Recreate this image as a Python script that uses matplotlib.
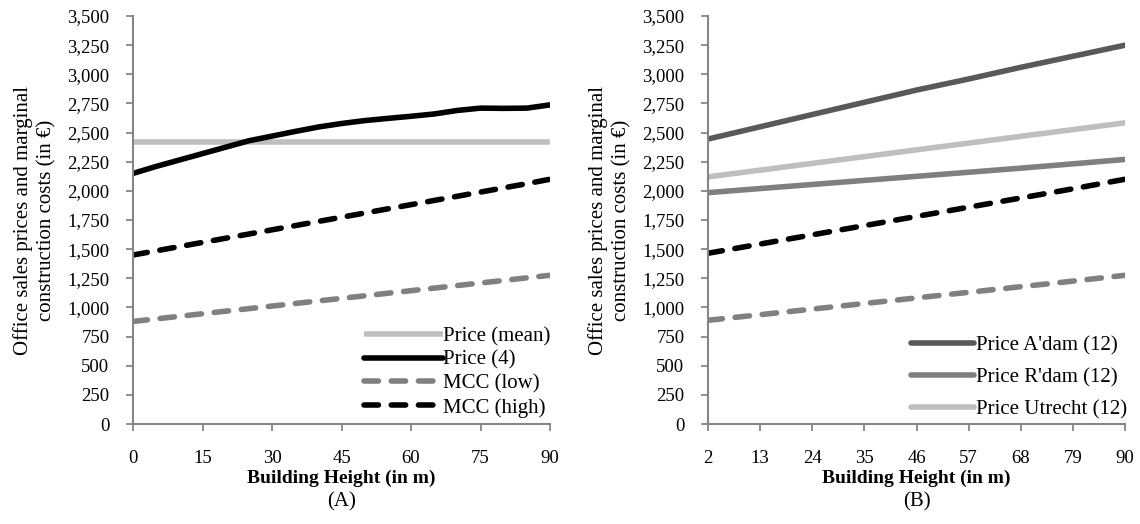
import matplotlib.pyplot as plt
import numpy as np

plt.rcParams['font.family'] = ['Liberation Serif', 'DejaVu Serif']

# panel A
height_a = [0, 5, 10, 15, 20, 25, 30, 35, 40, 45, 50, 55, 60, 65, 70, 75, 80, 85, 90]
price_mean = [2420] * len(height_a)
price_4 = [2150, 2210, 2265, 2320, 2375, 2430, 2470, 2510, 2548, 2578, 2603, 2622, 2640, 2660, 2690, 2710, 2708, 2710, 2738]
mcc_low_a = [880, 902, 924, 946, 968, 990, 1012, 1034, 1056, 1078, 1100, 1122, 1144, 1166, 1188, 1210, 1232, 1254, 1276]
mcc_high_a = [1450, 1486, 1522, 1558, 1594, 1630, 1666, 1702, 1738, 1774, 1810, 1846, 1882, 1918, 1954, 1990, 2026, 2062, 2100]

# panel B
height_b = [2, 13, 24, 35, 46, 57, 68, 79, 90]
price_adam = [2445, 2550, 2655, 2760, 2865, 2960, 3060, 3155, 3250]
price_rdam = [1985, 2020, 2055, 2090, 2125, 2160, 2195, 2232, 2270]
price_utrecht = [2120, 2178, 2236, 2294, 2352, 2410, 2468, 2526, 2584]
mcc_low_b = [890, 938, 986, 1034, 1082, 1130, 1178, 1226, 1276]
mcc_high_b = [1465, 1544, 1623, 1702, 1781, 1860, 1939, 2018, 2100]

AX_GRAY = '#868686'
LW = 4.0
DASH = (2.6, 2.3)


def style_axes(ax, xticks, xlim, label):
    ax.set_xlim(xlim)
    ax.set_ylim(0, 3500)
    ax.set_xticks(xticks)
    ax.set_yticks(np.arange(0, 3501, 250))
    ax.set_yticklabels(["{:,}".format(v) for v in range(0, 3501, 250)])
    for s in ['top', 'right']:
        ax.spines[s].set_visible(False)
    for s in ['left', 'bottom']:
        ax.spines[s].set_color(AX_GRAY)
        ax.spines[s].set_linewidth(1.5)
    ax.tick_params(axis='both', direction='out', length=5, width=1.3,
                   color=AX_GRAY, labelsize=13.5)
    ax.tick_params(axis='x', pad=14)
    ax.tick_params(axis='y', pad=12)
    ax.set_ylabel("Office sales prices and marginal\nconstruction costs (in \u20ac)",
                  fontsize=15, labelpad=8, linespacing=1.25)
    ax.set_xlabel("Building Height (in m)", fontsize=14, fontweight='bold', labelpad=2)
    ax.text(0.5, -0.19, label, transform=ax.transAxes, ha='center', va='center',
            fontsize=15)


def dashed(ax, x, y, color, lab):
    line, = ax.plot(x, y, color=color, lw=LW, label=lab, dash_capstyle='round')
    line.set_dashes(DASH)
    return line


fig = plt.figure(figsize=(11.4, 5.24), dpi=100)
ax1 = fig.add_axes([0.1167, 0.1908, 0.3658, 0.7786])
ax2 = fig.add_axes([0.6211, 0.1908, 0.3658, 0.7786])

ax1.plot(height_a, price_mean, color='#bfbfbf', lw=LW, label='Price (mean)', solid_capstyle='butt')
ax1.plot(height_a, price_4, color='black', lw=LW, label='Price (4)', solid_capstyle='round')
dashed(ax1, height_a, mcc_low_a, '#808080', 'MCC (low)')
dashed(ax1, height_a, mcc_high_a, 'black', 'MCC (high)')
style_axes(ax1, range(0, 91, 15), (0, 90), '(A)')
ax1.legend(loc='lower right', bbox_to_anchor=(1.035, -0.02), frameon=False, fontsize=15,
           handlelength=3.8, handletextpad=0.0, labelspacing=0.2, borderpad=0.2)

ax2.plot(height_b, price_adam, color='#595959', lw=LW, label="Price A'dam (12)", solid_capstyle='round')
ax2.plot(height_b, price_rdam, color='#7f7f7f', lw=LW, label="Price R'dam (12)", solid_capstyle='round')
ax2.plot(height_b, price_utrecht, color='#bfbfbf', lw=LW, label='Price Utrecht (12)', solid_capstyle='round')
dashed(ax2, height_b, mcc_low_b, '#808080', '_nolegend_')
dashed(ax2, height_b, mcc_high_b, 'black', '_nolegend_')
style_axes(ax2, height_b, (2, 90), '(B)')
ax2.legend(loc='lower right', bbox_to_anchor=(1.04, -0.025), frameon=False, fontsize=15,
           handlelength=3.0, handletextpad=0.1, labelspacing=0.6, borderpad=0.2)

fig.savefig('out.png', dpi=100)
